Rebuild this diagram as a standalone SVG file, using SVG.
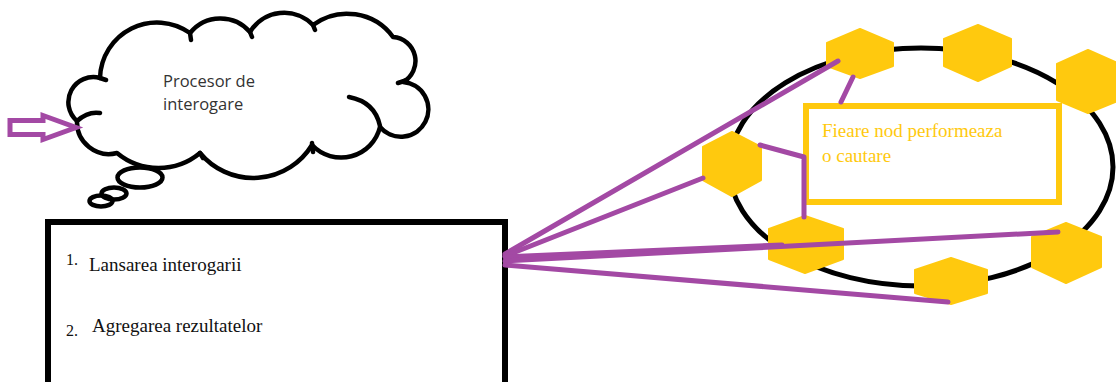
<svg xmlns="http://www.w3.org/2000/svg" width="1116" height="382" viewBox="0 0 1116 382">
  <style>
    .ink { fill: none; stroke: #000; stroke-width: 4.5; stroke-linecap: round; stroke-linejoin: round; }
    .hex { fill: #FFC90E; stroke: #FFC90E; stroke-width: 2; stroke-linejoin: round; }
    .wire { fill: none; stroke: #A349A4; stroke-width: 5; stroke-linecap: round; stroke-linejoin: round; }
    .cloudtxt { font-family: "Open Sans", "Liberation Sans", sans-serif; font-size: 16.5px; fill: #333; }
    .serif { font-family: "Liberation Serif", serif; font-size: 19px; fill: #111; }
    .num { font-family: "Liberation Serif", serif; font-size: 16px; fill: #111; }
    .note { font-family: "Liberation Serif", serif; font-size: 19px; fill: #FFC90E; }
  </style>
  <rect width="1116" height="382" fill="#fff"/>

  <g id="cloud">
    <path class="ink" fill="#fff" d="M100,78 A57,57 0 0 1 190,33 A39,39 0 0 1 250,32 A40,40 0 0 1 313,25 A57,57 0 0 1 393,37 A24,24 0 0 1 403,82 A27.4,27.4 0 1 1 380,127 A40,40 0 0 1 312,145 A69,69 0 0 1 200,153 A65,65 0 0 1 117,153 A32,32 0 0 1 77,121 A25,25 0 0 1 100,78 Z"/>
    <path class="ink" d="M349,97 Q375,102 380,126"/>
    <path class="ink" d="M190,33 L191,40 M250,32 L252,37 M313,25 L315,30 M398,83 L407,80 M312,143 L313,152 M200,153 L203,158 M100,78 L106,80 M77,121 Q88,111 100,113"/>
    <ellipse class="ink" cx="140" cy="177.5" rx="22.5" ry="10"/>
    <ellipse class="ink" cx="114" cy="193.5" rx="12.5" ry="6"/>
    <ellipse class="ink" cx="101" cy="201" rx="11.5" ry="5.5"/>
    <text class="cloudtxt" x="163" y="87">Procesor de</text>
    <text class="cloudtxt" x="163" y="110">interogare</text>
  </g>

  <g id="task-box">
    <rect x="48" y="222" width="457" height="200" fill="#fff" stroke="#000" stroke-width="6"/>
    <text class="num" x="66" y="265">1.</text>
    <text class="serif" x="89" y="271">Lansarea interogarii</text>
    <text class="num" x="66" y="336">2.</text>
    <text class="serif" x="92" y="332">Agregarea rezultatelor</text>
  </g>

  <g id="ring">
    <ellipse cx="921" cy="167" rx="192" ry="119" fill="none" stroke="#000" stroke-width="5"/>
  </g>

  <g id="node-1"><polygon class="hex" points="860,29 893,43 893,66 860,78 827,66 827,43"/></g>
  <g id="node-2"><polygon class="hex" points="978,25 1011,39 1011,66 978,81 944,66 944,39"/></g>
  <g id="node-3"><polygon class="hex" points="1088,50 1120,64 1120,100 1088,113 1057,100 1057,64"/></g>
  <g id="node-4"><polygon class="hex" points="732,132 761,147 761,180 732,196 703,180 703,147"/></g>
  <g id="node-5"><polygon class="hex" points="805,216 843,229 843,259 805,273 769,259 769,229"/></g>
  <g id="node-6"><polygon class="hex" points="951,258 987,270 987,293 951,304 915,293 915,270"/></g>
  <g id="node-7"><polygon class="hex" points="1066,223 1101,237 1101,267 1066,283 1032,267 1032,237"/></g>

  <g id="note">
    <rect x="806" y="106" width="253" height="96" fill="none" stroke="#FFC90E" stroke-width="6"/>
    <text class="note" x="822" y="137">Fieare nod performeaza</text>
    <text class="note" x="822" y="162">o cautare</text>
  </g>

  <g id="connectors">
    <polygon points="10,120.5 43,120.5 43,115.5 76,127.5 43,139.5 43,134.5 10,134.5" fill="#fff" stroke="#A349A4" stroke-width="5" stroke-linejoin="miter"/>
    <line class="wire" x1="505" y1="254" x2="838" y2="61"/>
    <line class="wire" x1="505" y1="256" x2="703" y2="178"/>
    <line class="wire" x1="505" y1="257" x2="782" y2="245"/>
    <line class="wire" x1="505" y1="261" x2="1058" y2="232"/>
    <line class="wire" x1="505" y1="265" x2="948" y2="302"/>
    <line class="wire" x1="853" y1="77" x2="841" y2="102"/>
    <polyline class="wire" points="760,145 804,157 804,217"/>
  </g>
</svg>
